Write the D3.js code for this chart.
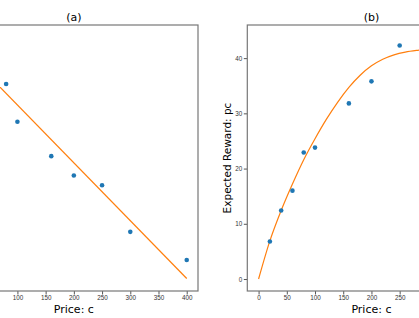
<!DOCTYPE html>
<html>
<head>
<meta charset="utf-8">
<script src="https://cdn.jsdelivr.net/npm/d3@7"></script>
<style>
  body { margin: 0; background: #fff; }
  svg { display: block; font-family: 'DejaVu Sans', sans-serif; }
  .tick text { font-size: 6.3px; fill: #333; }
  .tick line { stroke: #555; }
</style>
</head>
<body>
<div id="chart-area"></div>
<script>
// observed prices and what was seen at each one
const prices = [20, 40, 60, 80, 100, 160, 200, 250, 300, 400]
const demand = [0.340, 0.310, 0.267, 0.286, 0.243, 0.204, 0.182, 0.171, 0.118, 0.086]
const reward = [6.8, 12.4, 16.0, 22.9, 23.8, 31.8, 35.8, 42.3, 35.4, 34.4]

// fitted demand line (a)
const fitPrice = [0, 400]
const fitDemand = [0.328, 0.065]

// fitted reward curve (b)
const curvePrice = [0, 20, 40, 60, 80, 100, 120, 140, 160, 180, 200, 220, 240, 260, 280, 300]
const curveReward = [0, 6.9, 12.4, 17.2, 21.6, 25.4, 28.9, 32.0, 34.7, 36.9, 38.6, 39.8, 40.6, 41.1, 41.4, 41.6]

const xTicks = [0, 50, 100, 150, 200, 250, 300, 350, 400]
const yTicksB = [0, 10, 20, 30, 40]

const W = 419, H = 318
const plotTop = 25, plotBottom = 291

const svg = d3.select('#chart-area')
              .append('svg')
              .attr('width', W)
              .attr('height', H)

// Scales (left panel sticks out past the left edge of the picture)
const xA = d3.scaleLinear().domain([-20, 420]).range([-50.3, 198])
const yA = d3.scaleLinear().domain([0.0508, 0.353]).range([plotBottom, plotTop])
const xB = d3.scaleLinear().domain([-20, 420]).range([247.3, 495.6])
const yB = d3.scaleLinear().domain([-2.17, 46.0]).range([plotBottom, plotTop])

// only the ticks whose labels land inside the picture
const visible = x => xTicks.filter(t => x(t) > 8 && x(t) < W - 8)

const panel = (x, y, yTicks, title, yLabel, pts, lx, ly, curved) => {
    const g = svg.append('g')

    // X Axis
    g.append('g')
     .attr('transform', 'translate(0,' + plotBottom + ')')
     .call(d3.axisBottom(x).tickValues(visible(x)).tickSize(3.5).tickPadding(1.2))
     .call(a => a.select('.domain').remove())

    // Y Axis
    if (yTicks) {
        g.append('g')
         .attr('transform', 'translate(' + x.range()[0] + ',0)')
         .call(d3.axisLeft(y).tickValues(yTicks).tickSize(3.5).tickPadding(1.5))
         .call(a => a.select('.domain').remove())
    }

    // spines
    g.append('rect')
     .attr('x', x.range()[0])
     .attr('y', plotTop)
     .attr('width', x.range()[1] - x.range()[0])
     .attr('height', plotBottom - plotTop)
     .attr('fill', 'none')
     .attr('stroke', '#777')
     .attr('stroke-width', 1.2)

    const cx = (x.range()[0] + x.range()[1]) / 2

    g.append('text')
     .attr('x', cx)
     .attr('y', 21)
     .attr('font-size', '11px')
     .attr('text-anchor', 'middle')
     .text(title)

    g.append('text')
     .attr('x', cx)
     .attr('y', 313)
     .attr('font-size', '11px')
     .attr('text-anchor', 'middle')
     .text('Price: c')

    if (yLabel) {
        g.append('text')
         .attr('transform', 'translate(' + (x.range()[0] - 16.8) + ',' + (plotTop + plotBottom) / 2 + ') rotate(-90)')
         .attr('font-size', '10.5px')
         .attr('text-anchor', 'middle')
         .text(yLabel)
    }

    // fit
    const line = d3.line()
                   .x(d => x(d[0]))
                   .y(d => y(d[1]))
                   .curve(curved ? d3.curveMonotoneX : d3.curveLinear)
    g.append('path')
     .datum(d3.zip(lx, ly))
     .attr('d', line)
     .attr('fill', 'none')
     .attr('stroke', '#ff7f0e')
     .attr('stroke-width', 1.2)

    // observations
    g.selectAll('circle')
     .data(d3.zip(prices, pts))
     .enter()
     .append('circle')
     .attr('cx', d => x(d[0]))
     .attr('cy', d => y(d[1]))
     .attr('r', 2.3)
     .attr('fill', '#1f77b4')
}

panel(xA, yA, null, '(a)', null, demand, fitPrice, fitDemand, false)
panel(xB, yB, yTicksB, '(b)', 'Expected Reward: pc', reward, curvePrice, curveReward, true)
</script>
</body>
</html>
